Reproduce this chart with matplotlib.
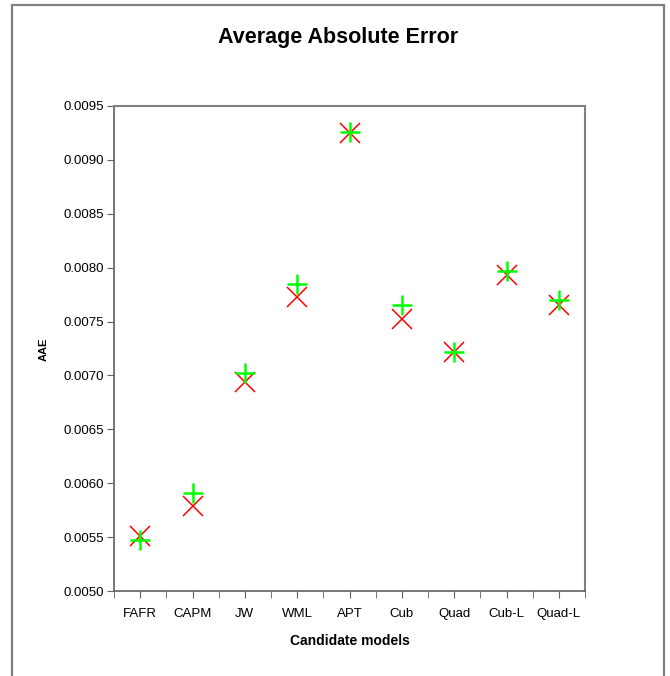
import matplotlib.pyplot as plt
from matplotlib.patches import Rectangle

# candidate models and their average absolute errors (two series)
models = ["FAFR", "CAPM", "JW", "WML", "APT", "Cub", "Quad", "Cub-L", "Quad-L"]
aae_plus = [0.00547, 0.00591, 0.00702, 0.00785, 0.009255, 0.00765, 0.00722, 0.00797, 0.00770]
aae_cross = [0.00551, 0.00579, 0.00694, 0.00773, 0.00925, 0.00752, 0.00722, 0.00793, 0.00765]
y_ticks = [0.0050, 0.0055, 0.0060, 0.0065, 0.0070, 0.0075, 0.0080, 0.0085, 0.0090, 0.0095]

plt.rcParams['font.family'] = ['Liberation Sans', 'DejaVu Sans']

fig = plt.figure(figsize=(6.70, 6.76), dpi=100)
ax = fig.add_axes([114 / 670, 1 - 591 / 676, 471 / 670, 485 / 676])

x = list(range(1, len(models) + 1))
ax.plot(x, aae_cross, linestyle='none', marker='x', color='#ff0000',
        markersize=14, markeredgewidth=1.1, zorder=3)
ax.plot(x, aae_plus, linestyle='none', marker='+', color='#00ff00',
        markersize=14, markeredgewidth=1.8, zorder=4)

ax.set_xlim(0.5, len(models) + 0.5)
ax.set_ylim(0.0050, 0.0095)
ax.set_xticks(x)
ax.set_xticklabels(models, fontsize=9.5)
ax.set_xticks([i + 0.5 for i in range(len(models) + 1)], minor=True)
ax.set_yticks(y_ticks)
ax.set_yticklabels(["%.4f" % v for v in y_ticks], fontsize=9.5)
ax.tick_params(axis='x', which='both', direction='out', length=5, color='#606060', pad=7)
ax.tick_params(axis='y', direction='out', length=5, color='#606060', pad=2)

for side in ['left', 'bottom']:
    ax.spines[side].set_color('#606060')
    ax.spines[side].set_linewidth(1.2)
for side in ['top', 'right']:
    ax.spines[side].set_color('#808080')
    ax.spines[side].set_linewidth(1.5)

fig.text(338 / 670, 1 - 38 / 676, "Average Absolute Error", fontsize=15.5,
         fontweight='bold', ha='center', va='center')
fig.text(350 / 670, 1 - 641 / 676, "Candidate models", fontsize=10,
         fontweight='bold', ha='center', va='center')
fig.text(44 / 670, 1 - 349 / 676, "AAE", fontsize=8, fontweight='black',
         rotation=90, ha='center', va='center')

# outer chart border
fig.patches.append(Rectangle((11.5 / 670, -0.05), (664 - 11.5) / 670, 1.05 - 5.5 / 676,
                             transform=fig.transFigure, fill=False,
                             edgecolor='#808080', linewidth=1.6))

fig.savefig("out.png", dpi=100)
